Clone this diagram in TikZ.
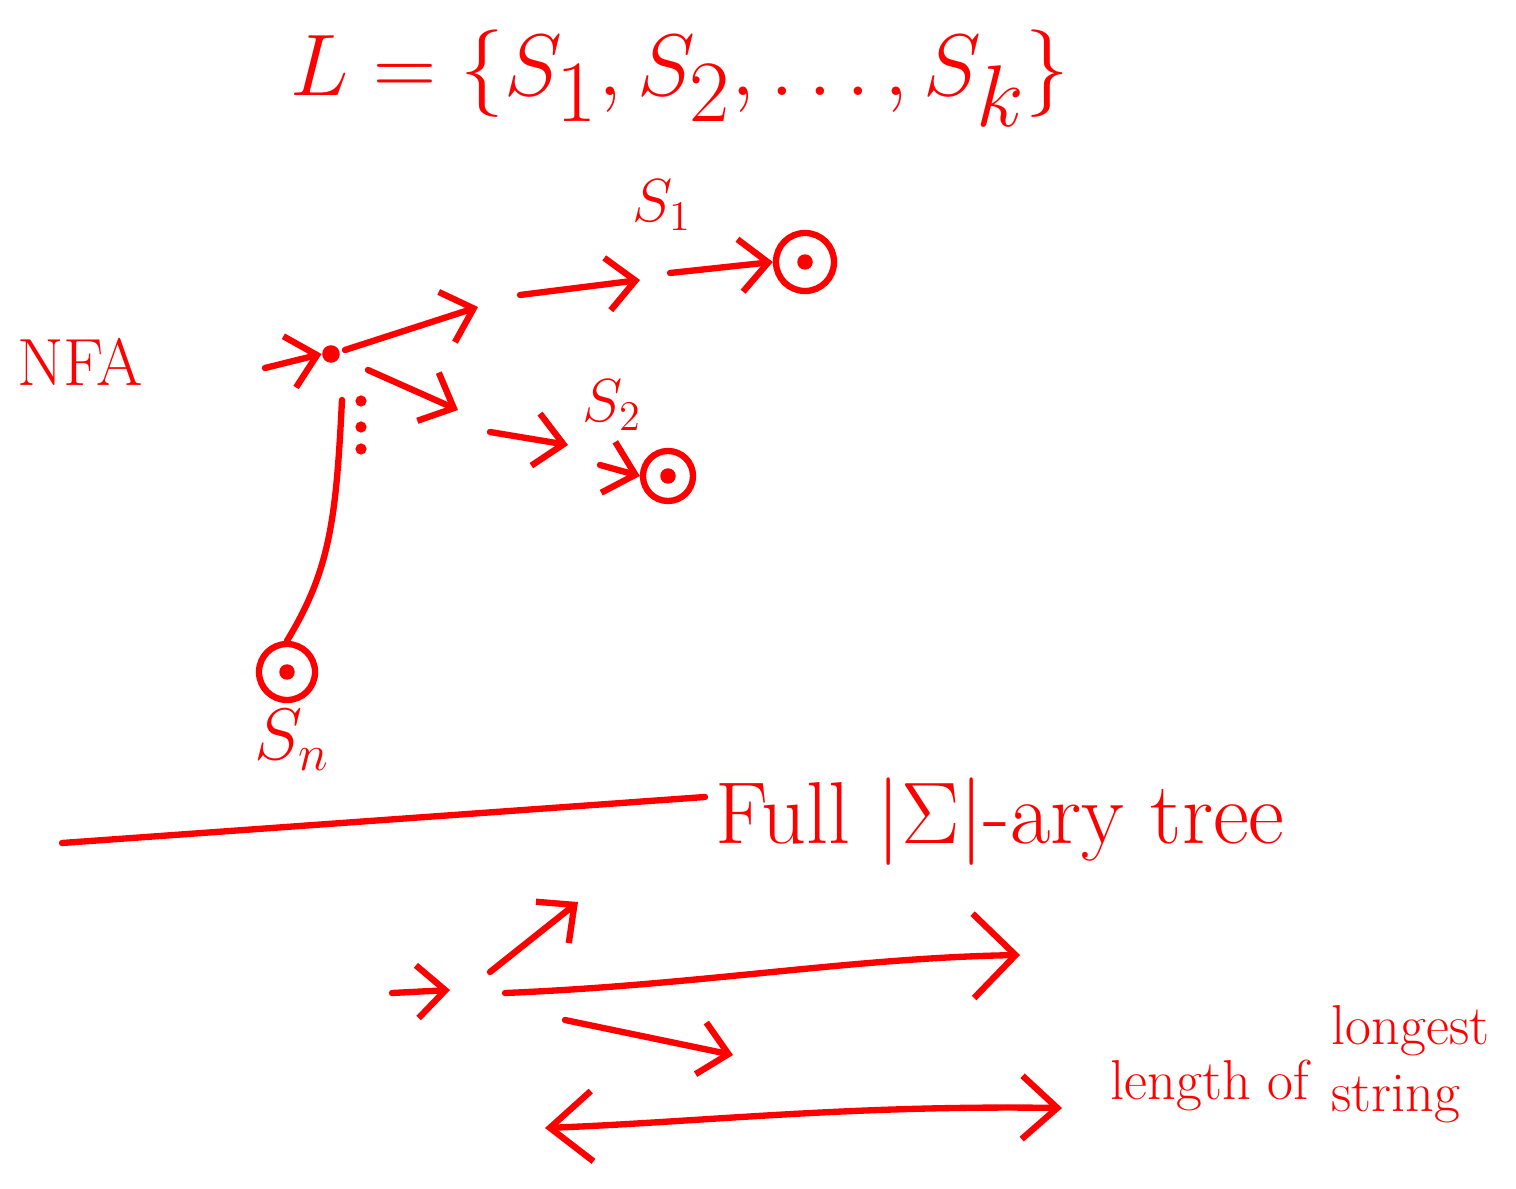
\documentclass[tikz,border=0pt]{standalone}
\usepackage{amsmath, amssymb}
\usetikzlibrary{arrows.meta, positioning, calc}
\definecolor{inkred}{RGB}{255, 0, 0}
\tikzset{
  ink/.style={draw=inkred, line width=1.8pt, line cap=round, line join=round},
  inkarrow/.style={ink, -{Straight Barb[length=8pt, width=15pt, line width=1.8pt]}},
  bigarrow/.style={ink, -{Straight Barb[length=12pt, width=24pt, line width=1.8pt]}},
  accept/.style={circle, draw=inkred, line width=1.8pt, inner sep=0pt,
    path picture={\fill[inkred] (path picture bounding box.center) circle (2.2pt);}},
  inktext/.style={text=inkred, inner sep=0pt},
}

\begin{document}
\begin{tikzpicture}[x=0.01cm, y=-0.01cm]
  \useasboundingbox (0,0) rectangle (1516,1189);

  % the language
  \node[inktext, font=\fontsize{34}{38}\selectfont] (lang) at (680,78) {$L = \{S_1, S_2, \dots, S_k\}$};

  % NFA with one accepting path per string
  \node[inktext, font=\fontsize{19}{22}\selectfont] (nfa) at (80,362) {NFA};
  \node[circle, fill=inkred, inner sep=0pt, minimum size=5pt] (q0) at (331,354) {};
  \coordinate (in) at (265,368);
  \draw[inkarrow] (in) -- (q0.west);

  \node[accept, minimum size=0.58cm] (s1) at (805,262) {};
  \node[accept, minimum size=0.50cm] (s2) at (668,476) {};
  \node[accept, minimum size=0.56cm] (sn) at (287,672) {};

  \node[inktext, font=\fontsize{18}{22}\selectfont] (l1) at (662,205) {$S_1$};
  \node[inktext, font=\fontsize{18}{22}\selectfont] (l2) at (612,405) {$S_2$};
  \node[inktext, font=\fontsize{20}{24}\selectfont] (ln) at (292,740) {$S_n$};

  % towards S1
  \coordinate (a1) at (478,307);
  \coordinate (a2) at (520,295);
  \coordinate (a3) at (640,280);
  \coordinate (a4) at (670,273);
  \draw[inkarrow] ($(q0)+(14,-4)$) -- (a1);
  \draw[inkarrow] (a2) -- (a3);
  \draw[inkarrow] (a4) -- (s1.west);

  % towards S2
  \coordinate (b1) at (458,410);
  \coordinate (b2) at (490,432);
  \coordinate (b3) at (568,445);
  \coordinate (b4) at (600,465);
  \draw[inkarrow] ($(q0)+(37,16)$) -- (b1);
  \draw[inkarrow] (b2) -- (b3);
  \draw[inkarrow] (b4) -- (s2.west);

  % towards Sn
  \coordinate (d0) at (342,400);
  \draw[ink] (d0) .. controls (336,520) and (330,570) .. (sn.north);
  \foreach \y in {401,427,449}
    \fill[inkred] (361,\y) circle (1.6pt);

  % separator
  \coordinate (rl) at (62,843);
  \coordinate (rr) at (705,797);
  \draw[ink] (rl) -- (rr);

  \node[inktext, font=\fontsize{25}{30}\selectfont] (tree) at (1000,822) {Full $|\Sigma|$-ary tree};

  % the tree
  \coordinate (r) at (470,990);
  \coordinate (tin) at (392,993);
  \draw[inkarrow] (tin) -- ($(r)+(-20,0)$);
  \coordinate (t1) at (578,902);
  \coordinate (t2) at (1020,955);
  \coordinate (t3) at (733,1055);
  \draw[inkarrow] ($(r)+(20,-18)$) -- (t1);
  \draw[bigarrow] ($(r)+(35,3)$) .. controls (700,985) and (850,958) .. (t2);
  \draw[inkarrow] ($(r)+(95,30)$) -- (t3);

  % height
  \coordinate (hl) at (545,1128);
  \coordinate (hr) at (1062,1108);
  \draw[ink, {Straight Barb[length=12pt, width=20pt, line width=1.8pt]}-{Straight Barb[length=10pt, width=18pt, line width=1.8pt]}]
    (hl) .. controls (700,1122) and (850,1105) .. (hr);
  \node[inktext, font=\fontsize{16}{19}\selectfont, anchor=west] (len) at (1110,1085) {length of};
  \node[inktext, font=\fontsize{16}{19}\selectfont, align=left, right=6pt of len.east, yshift=6pt] (lng) {longest\\string};
\end{tikzpicture}
\end{document}
